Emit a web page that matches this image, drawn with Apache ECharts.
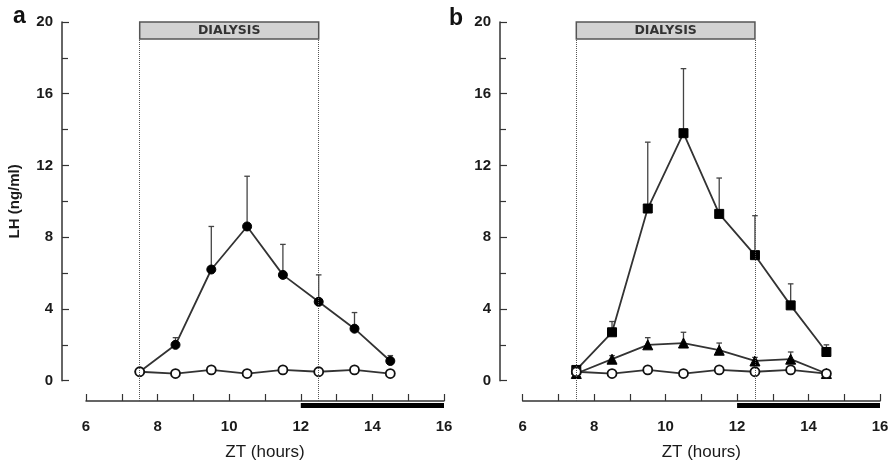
<!DOCTYPE html>
<html>
<head>
<meta charset="utf-8">
<script src="https://cdn.jsdelivr.net/npm/echarts@6/dist/echarts.min.js"></script>
<style>
html,body{margin:0;padding:0;background:#fff;}
#chart{width:893px;height:466px;}
</style>
</head>
<body>
<div id="chart"></div>
<script>
// ---- data ----
const hours = [7.5, 8.5, 9.5, 10.5, 11.5, 12.5, 13.5, 14.5];
const aControl = [0.5, 0.4, 0.6, 0.4, 0.6, 0.5, 0.6, 0.4];
const aTreated = [0.5, 2.0, 6.2, 8.6, 5.9, 4.4, 2.9, 1.1];
const aTreatedErrTop = [null, 2.4, 8.6, 11.4, 7.6, 5.9, 3.8, 1.4];
const bControl = [0.5, 0.4, 0.6, 0.4, 0.6, 0.5, 0.6, 0.4];
const bSquare = [0.6, 2.7, 9.6, 13.8, 9.3, 7.0, 4.2, 1.6];
const bSquareErrTop = [null, 3.3, 13.3, 17.4, 11.3, 9.2, 5.4, 2.0];
const bTriangle = [0.4, 1.2, 2.0, 2.1, 1.7, 1.1, 1.2, 0.4];
const bTriangleErrTop = [null, 1.4, 2.4, 2.7, 2.1, 1.3, 1.6, null];
const dialysisStart = 7.5, dialysisEnd = 12.5;
const darkStart = 12, darkEnd = 16;
const xMin = 6, xMax = 16;
const yMin = 0, yMax = 20;
const yTicks = [0, 4, 8, 12, 16, 20];
const xTickLabels = [6, 8, 10, 12, 14, 16];
const panelLabels = ['a', 'b'];
const dialysisLabel = 'DIALYSIS';

// ---- layout ----
const panels = [
  { left: 86, width: 358, yOffset: 24 },
  { left: 522.7, width: 357.3, yOffset: 22.7 }
];
const mainTop = 22, mainHeight = 358.7;
const axisTop = 39, axisBottomY = 403;
const barHeight = 5;
const boxLow = 19.05;
const LINE = '#333';
const FONT = 'Liberation Sans, Arial, Helvetica';

const pair = (xs, ys) => xs.map((x, i) => [x, ys[i]]);
const errData = (xs, ys, tops) => xs.map((x, i) => [x, ys[i], tops[i]]).filter(d => d[2] != null);

const grids = [], xAxes = [], yAxes = [], series = [];

function errSeries(idx, data) {
  return {
    type: 'custom', xAxisIndex: idx, yAxisIndex: idx, z: 1, silent: true,
    data: data,
    renderItem: function (params, api) {
      const x = api.value(0);
      const p0 = api.coord([x, api.value(1)]);
      const p1 = api.coord([x, api.value(2)]);
      return {
        type: 'group',
        children: [
          { type: 'line', shape: { x1: p0[0], y1: p0[1], x2: p1[0], y2: p1[1] }, style: { stroke: '#444', lineWidth: 1.3 } },
          { type: 'line', shape: { x1: p1[0] - 2.8, y1: p1[1], x2: p1[0] + 2.8, y2: p1[1] }, style: { stroke: '#444', lineWidth: 1.3 } }
        ]
      };
    }
  };
}

function lineSeries(idx, data, symbol, size, filled) {
  return {
    type: 'line', xAxisIndex: idx, yAxisIndex: idx, z: 3,
    data: data, symbol: symbol, symbolSize: size, showSymbol: true,
    lineStyle: { color: LINE, width: 1.8 },
    itemStyle: filled ? { color: '#000', borderColor: '#000', borderWidth: 1 }
                      : { color: '#fff', borderColor: '#111', borderWidth: 1.8 },
    emphasis: { disabled: true }
  };
}

panels.forEach((p, k) => {
  const gMain = grids.length;
  grids.push({ left: p.left, width: p.width, top: mainTop, height: mainHeight });
  grids.push({ left: p.left, width: p.width, top: axisTop, height: axisBottomY - axisTop });
  grids.push({ left: p.left, width: p.width, top: axisBottomY, height: barHeight });

  // main axes
  xAxes.push({ gridIndex: gMain, type: 'value', min: xMin, max: xMax, show: false });
  yAxes.push({
    gridIndex: gMain, type: 'value', min: yMin, max: yMax, interval: 4, offset: p.yOffset,
    axisLine: { show: true, lineStyle: { color: LINE, width: 1.5 } },
    axisTick: { show: true, inside: true, length: 7, lineStyle: { color: LINE, width: 1.2 } },
    minorTick: { show: true, splitNumber: 2, length: 6, lineStyle: { color: LINE, width: 1.2 } },
    splitLine: { show: false },
    axisLabel: { fontFamily: FONT, fontSize: 15, fontWeight: 'bold', color: '#1a1a1a', margin: 9,
      formatter: v => yTicks.includes(v) ? String(v) : '' },
    name: k === 0 ? 'LH (ng/ml)' : '', nameLocation: 'middle', nameGap: 40,
    nameTextStyle: { fontFamily: FONT, fontSize: 15, fontWeight: 'bold', color: '#1a1a1a' }
  });
  // x axis grid
  xAxes.push({
    gridIndex: gMain + 1, type: 'value', min: xMin, max: xMax, interval: 1,
    axisLine: { show: true, lineStyle: { color: LINE, width: 1.5 } },
    axisTick: { show: true, inside: true, length: 7, lineStyle: { color: LINE, width: 1.2 } },
    splitLine: { show: false },
    axisLabel: { fontFamily: FONT, fontSize: 15, fontWeight: 'bold', color: '#1a1a1a', margin: 18,
      formatter: v => xTickLabels.includes(v) ? String(v) : '' },
    name: 'ZT (hours)', nameLocation: 'middle', nameGap: 43,
    nameTextStyle: { fontFamily: FONT, fontSize: 17, color: '#1a1a1a' }
  });
  yAxes.push({ gridIndex: gMain + 1, type: 'value', min: 0, max: 1, show: false });
  // dark bar grid
  xAxes.push({ gridIndex: gMain + 2, type: 'value', min: xMin, max: xMax, show: false });
  yAxes.push({ gridIndex: gMain + 2, type: 'value', min: 0, max: 1, show: false });

  // dialysis box
  series.push({
    type: 'line', xAxisIndex: gMain, yAxisIndex: gMain, data: [[xMin, yMax]], showSymbol: false,
    lineStyle: { opacity: 0 }, silent: true, z: 2,
    markArea: {
      silent: true,
      itemStyle: { color: '#d2d2d2', borderColor: '#555', borderWidth: 1.5 },
      label: { show: true, position: 'inside', color: '#333', fontFamily: 'DejaVu Sans', fontWeight: 'bold', fontSize: 12.5 },
      data: [[{ name: dialysisLabel, xAxis: dialysisStart, yAxis: boxLow }, { xAxis: dialysisEnd, yAxis: yMax }]]
    }
  });
  // dotted dialysis boundaries
  series.push({
    type: 'line', xAxisIndex: gMain + 1, yAxisIndex: gMain + 1, data: [[xMin, 0]], showSymbol: false,
    lineStyle: { opacity: 0 }, silent: true, z: 0,
    markLine: {
      silent: true, symbol: 'none', label: { show: false },
      lineStyle: { type: 'dotted', color: '#555', width: 1 },
      data: [{ xAxis: dialysisStart }, { xAxis: dialysisEnd }]
    }
  });
  // dark phase bar
  series.push({
    type: 'line', xAxisIndex: gMain + 2, yAxisIndex: gMain + 2, data: [[xMin, 0]], showSymbol: false,
    lineStyle: { opacity: 0 }, silent: true,
    markArea: { silent: true, itemStyle: { color: '#000' }, data: [[{ xAxis: darkStart }, { xAxis: darkEnd }]] }
  });

  if (k === 0) {
    series.push(errSeries(gMain, errData(hours, aTreated, aTreatedErrTop)));
    series.push(lineSeries(gMain, pair(hours, aTreated), 'circle', 9, true));
    series.push(lineSeries(gMain, pair(hours, aControl), 'circle', 9, false));
  } else {
    series.push(errSeries(gMain, errData(hours, bSquare, bSquareErrTop)));
    series.push(errSeries(gMain, errData(hours, bTriangle, bTriangleErrTop)));
    series.push(lineSeries(gMain, pair(hours, bTriangle), 'triangle', 10, true));
    series.push(lineSeries(gMain, pair(hours, bSquare), 'rect', 9, true));
    series.push(lineSeries(gMain, pair(hours, bControl), 'circle', 9, false));
  }
});

const chart = echarts.init(document.getElementById('chart'), null, { renderer: 'canvas' });
chart.setOption({
  animation: false,
  backgroundColor: '#fff',
  title: [
    { text: panelLabels[0], left: 8, top: 0, textStyle: { fontFamily: FONT, fontSize: 23, fontWeight: 'bold', color: '#111' } },
    { text: panelLabels[1], left: 444, top: 2, textStyle: { fontFamily: FONT, fontSize: 23, fontWeight: 'bold', color: '#111' } }
  ],
  grid: grids, xAxis: xAxes, yAxis: yAxes, series: series
});
</script>
</body>
</html>
